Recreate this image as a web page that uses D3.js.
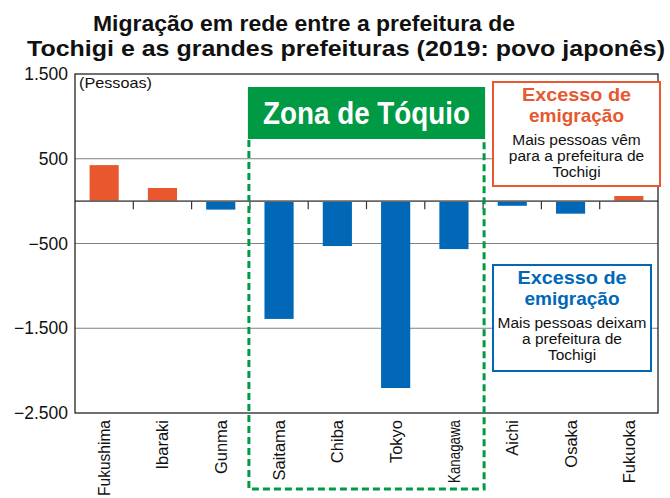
<!DOCTYPE html>
<html><head><meta charset="utf-8">
<script src="https://cdn.jsdelivr.net/npm/d3@7"></script>
<style>body{margin:0;background:#fff}svg{display:block;font-family:"Liberation Sans",Arial,sans-serif}</style>
</head><body>
<svg id="c" width="670" height="498"></svg>
<script>
const categories = ["Fukushima","Ibaraki","Gunma","Saitama","Chiba","Tokyo","Kanagawa","Aichi","Osaka","Fukuoka"];
const values = [425, 155, -100, -1390, -530, -2205, -566, -55, -148, 60];
const yTicks = [1500, 500, -500, -1500, -2500];
const yTickLabels = ["1.500", "500", "\u2212500", "\u22121.500", "\u22122.500"];
const tokyoZone = ["Saitama","Chiba","Tokyo","Kanagawa"];

const svg = d3.select("#c");
const L = 75, R = 658, T = 74, B = 413;
const x = d3.scaleBand().domain(categories).range([L, R]).paddingInner(0).paddingOuter(0);
const y = d3.scaleLinear().domain([-2500, 1500]).range([B, T]);
const ORANGE = "#e8572e", BLUE = "#0068b7", GREEN = "#009a44";

// title
const title = svg.append("g").attr("font-weight", "bold").attr("font-size", 22).attr("fill", "#111");
title.append("text").attr("x", 93).attr("y", 31).attr("textLength", 422).attr("lengthAdjust", "spacingAndGlyphs")
  .text("Migração em rede entre a prefeitura de");
title.append("text").attr("x", 27).attr("y", 56).attr("textLength", 638).attr("lengthAdjust", "spacingAndGlyphs")
  .text("Tochigi e as grandes prefeituras (2019: povo japonês)");

// gridlines
svg.append("g").selectAll("line").data([500, -500, -1500]).join("line")
  .attr("x1", L).attr("x2", R).attr("y1", d => y(d)).attr("y2", d => y(d))
  .attr("stroke", "#808080").attr("stroke-width", 1.2);

// bars
svg.append("g").selectAll("rect").data(categories).join("rect")
  .attr("x", d => x(d) + x.bandwidth() * 0.25)
  .attr("width", x.bandwidth() * 0.5)
  .attr("y", (d, i) => y(Math.max(0, values[i])))
  .attr("height", (d, i) => Math.abs(y(values[i]) - y(0)))
  .attr("fill", (d, i) => values[i] >= 0 ? ORANGE : BLUE);

// zero line and ticks
svg.append("line").attr("x1", L).attr("x2", R).attr("y1", y(0)).attr("y2", y(0))
  .attr("stroke", "#666").attr("stroke-width", 1.6);
svg.append("g").selectAll("line").data(categories.slice(1)).join("line")
  .attr("x1", d => x(d)).attr("x2", d => x(d)).attr("y1", y(0)).attr("y2", y(0) + 8)
  .attr("stroke", "#333").attr("stroke-width", 1.2);

// frame
svg.append("rect").attr("x", L).attr("y", T).attr("width", R - L).attr("height", B - T)
  .attr("fill", "none").attr("stroke", "#111").attr("stroke-width", 1.2);

// y labels
svg.append("g").selectAll("text").data(yTicks).join("text")
  .attr("x", 68).attr("y", d => y(d) + 6).attr("text-anchor", "end")
  .attr("font-size", 17.5).attr("fill", "#111")
  .text((d, i) => yTickLabels[i]);
svg.append("text").attr("x", 79).attr("y", 88).attr("font-size", 14.5).attr("fill", "#111")
  .attr("textLength", 73).attr("lengthAdjust", "spacingAndGlyphs").text("(Pessoas)");

// x labels
const squeeze = {"Kanagawa": 63, "Fukushima": 76};
svg.append("g").selectAll("text").data(categories).join("text")
  .attr("transform", d => `translate(${x(d) + x.bandwidth() / 2 + 6},420) rotate(-90)`)
  .attr("text-anchor", "end").attr("font-size", 16.5).attr("fill", "#111")
  .each(function(d) {
    const t = d3.select(this).text(d);
    if (squeeze[d]) t.attr("textLength", squeeze[d]).attr("lengthAdjust", "spacingAndGlyphs");
  });

// Tokyo zone
const zx0 = x(tokyoZone[0]) - 1, zx1 = x(tokyoZone[tokyoZone.length - 1]) + x.bandwidth() + 1;
svg.append("path")
  .attr("d", `M${zx0},140 L${zx0},489 L${zx1},489 L${zx1},140`)
  .attr("fill", "none").attr("stroke", GREEN).attr("stroke-width", 3).attr("stroke-dasharray", "7,4");
svg.append("rect").attr("x", zx0 - 1).attr("y", 87).attr("width", zx1 - zx0 + 2).attr("height", 52).attr("fill", GREEN);
svg.append("text").attr("x", (zx0 + zx1) / 2).attr("y", 124).attr("text-anchor", "middle")
  .attr("font-size", 32).attr("font-weight", "bold").attr("fill", "#fff")
  .attr("textLength", 207).attr("lengthAdjust", "spacingAndGlyphs").text("Zona de Tóquio");

// legend boxes
function box(x0, y0, w, h, color, lines) {
  const g = svg.append("g");
  g.append("rect").attr("x", x0).attr("y", y0).attr("width", w).attr("height", h)
    .attr("fill", "#fff").attr("stroke", color).attr("stroke-width", 2);
  const cx = x0 + w / 2;
  g.append("text").attr("x", cx).attr("y", y0 + 19).attr("text-anchor", "middle").attr("font-size", 19)
    .attr("font-weight", "bold").attr("fill", color).attr("textLength", 109).attr("lengthAdjust", "spacingAndGlyphs")
    .text("Excesso de");
  g.append("text").attr("x", cx).attr("y", y0 + 40).attr("text-anchor", "middle").attr("font-size", 19)
    .attr("font-weight", "bold").attr("fill", color).text("emigração");
  lines.forEach((s, i) => g.append("text").attr("x", cx).attr("y", y0 + 63 + i * 16)
    .attr("text-anchor", "middle").attr("font-size", 15.5).attr("fill", "#111").text(s));
}
box(493, 82, 167, 104, ORANGE, ["Mais pessoas vêm", "para a prefeitura de", "Tochigi"]);
box(493, 265, 158, 106, BLUE, ["Mais pessoas deixam", "a prefeitura de", "Tochigi"]);
</script>
</body></html>
